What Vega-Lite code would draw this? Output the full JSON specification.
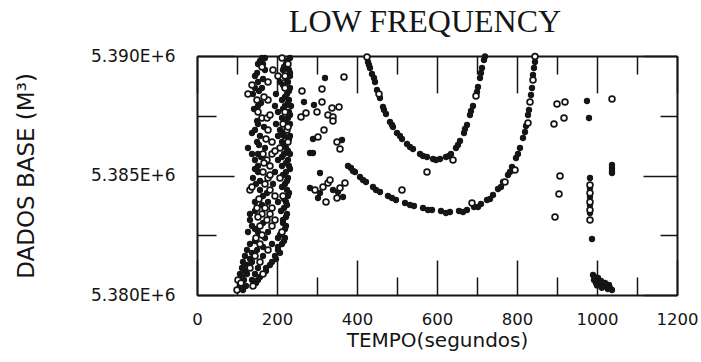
{
  "$schema": "https://vega.github.io/schema/vega-lite/v6.json",
  "width": 480,
  "height": 239,
  "autosize": {"type": "none"},
  "padding": {"left": 197, "top": 56, "right": 24, "bottom": 67},
  "background": "white",
  "title": {"text": "LOW FREQUENCY", "font": "Liberation Serif", "fontSize": 32, "fontWeight": "normal", "color": "#151515", "baseline": "alphabetic", "offset": 23, "dy": 40, "dx": -12},
  "config": {"view": {"stroke": null}},
  "data": {"values": [
    {"t":162.5,"v":5389916,"k":"f"},{"t":170,"v":5389916,"k":"f"},{"t":212.5,"v":5389916,"k":"o"},{"t":232.5,"v":5389916,"k":"f"},
    {"t":152.5,"v":5389665,"k":"f"},{"t":165,"v":5389665,"k":"f"},{"t":222.5,"v":5389665,"k":"f"},{"t":227.5,"v":5389665,"k":"o"},
    {"t":170,"v":5389414,"k":"f"},{"t":190,"v":5389414,"k":"o"},{"t":215,"v":5389414,"k":"f"},{"t":230,"v":5389414,"k":"f"},
    {"t":145,"v":5389163,"k":"f"},{"t":202.5,"v":5389163,"k":"o"},{"t":220,"v":5389163,"k":"o"},{"t":232.5,"v":5389163,"k":"f"},
    {"t":152.5,"v":5388912,"k":"f"},{"t":177.5,"v":5388912,"k":"o"},{"t":207.5,"v":5388912,"k":"f"},{"t":227.5,"v":5388912,"k":"f"},
    {"t":145,"v":5388661,"k":"f"},{"t":162.5,"v":5388661,"k":"f"},{"t":220,"v":5388661,"k":"o"},{"t":232.5,"v":5388661,"k":"f"},
    {"t":127.5,"v":5388410,"k":"o"},{"t":140,"v":5388410,"k":"f"},{"t":197.5,"v":5388410,"k":"f"},{"t":225,"v":5388410,"k":"f"},
    {"t":150,"v":5388159,"k":"o"},{"t":177.5,"v":5388159,"k":"o"},{"t":212.5,"v":5388159,"k":"f"},{"t":230,"v":5388159,"k":"f"},
    {"t":152.5,"v":5387908,"k":"f"},{"t":195,"v":5387908,"k":"f"},{"t":220,"v":5387908,"k":"f"},{"t":235,"v":5387908,"k":"f"},
    {"t":152.5,"v":5387657,"k":"o"},{"t":202.5,"v":5387657,"k":"f"},{"t":220,"v":5387657,"k":"o"},{"t":230,"v":5387657,"k":"f"},
    {"t":162.5,"v":5387406,"k":"o"},{"t":175,"v":5387406,"k":"o"},{"t":212.5,"v":5387406,"k":"f"},{"t":227.5,"v":5387406,"k":"f"},
    {"t":152.5,"v":5387155,"k":"f"},{"t":197.5,"v":5387155,"k":"f"},{"t":215,"v":5387155,"k":"o"},{"t":232.5,"v":5387155,"k":"f"},
    {"t":145,"v":5386904,"k":"f"},{"t":177.5,"v":5386904,"k":"o"},{"t":207.5,"v":5386904,"k":"f"},{"t":225,"v":5386904,"k":"o"},
    {"t":157.5,"v":5386653,"k":"f"},{"t":202.5,"v":5386653,"k":"f"},{"t":217.5,"v":5386653,"k":"f"},{"t":232.5,"v":5386653,"k":"f"},
    {"t":150,"v":5386402,"k":"f"},{"t":187.5,"v":5386402,"k":"o"},{"t":212.5,"v":5386402,"k":"f"},{"t":227.5,"v":5386402,"k":"o"},
    {"t":127.5,"v":5386151,"k":"f"},{"t":170,"v":5386151,"k":"f"},{"t":207.5,"v":5386151,"k":"o"},{"t":222.5,"v":5386151,"k":"f"},
    {"t":137.5,"v":5385900,"k":"f"},{"t":152.5,"v":5385900,"k":"f"},{"t":165,"v":5385900,"k":"o"},{"t":187.5,"v":5385900,"k":"o"},{"t":217.5,"v":5385900,"k":"f"},{"t":232.5,"v":5385900,"k":"f"},
    {"t":145,"v":5385649,"k":"f"},{"t":175,"v":5385649,"k":"o"},{"t":202.5,"v":5385649,"k":"f"},{"t":227.5,"v":5385649,"k":"f"},
    {"t":152.5,"v":5385398,"k":"f"},{"t":182.5,"v":5385398,"k":"o"},{"t":212.5,"v":5385398,"k":"f"},{"t":230,"v":5385398,"k":"f"},
    {"t":152.5,"v":5385147,"k":"f"},{"t":165,"v":5385147,"k":"o"},{"t":195,"v":5385147,"k":"f"},{"t":222.5,"v":5385147,"k":"f"},
    {"t":140,"v":5384896,"k":"f"},{"t":177.5,"v":5384896,"k":"o"},{"t":207.5,"v":5384896,"k":"o"},{"t":227.5,"v":5384896,"k":"f"},
    {"t":147.5,"v":5384644,"k":"f"},{"t":170,"v":5384644,"k":"o"},{"t":190,"v":5384644,"k":"f"},{"t":220,"v":5384644,"k":"f"},
    {"t":132.5,"v":5384393,"k":"o"},{"t":157.5,"v":5384393,"k":"f"},{"t":182.5,"v":5384393,"k":"o"},{"t":225,"v":5384393,"k":"f"},
    {"t":165,"v":5384142,"k":"f"},{"t":195,"v":5384142,"k":"o"},{"t":215,"v":5384142,"k":"o"},{"t":227.5,"v":5384142,"k":"f"},
    {"t":145,"v":5383891,"k":"f"},{"t":177.5,"v":5383891,"k":"f"},{"t":202.5,"v":5383891,"k":"f"},{"t":222.5,"v":5383891,"k":"f"},
    {"t":150,"v":5383640,"k":"o"},{"t":170,"v":5383640,"k":"o"},{"t":187.5,"v":5383640,"k":"o"},{"t":217.5,"v":5383640,"k":"f"},
    {"t":132.5,"v":5383389,"k":"f"},{"t":162.5,"v":5383389,"k":"o"},{"t":182.5,"v":5383389,"k":"o"},{"t":225,"v":5383389,"k":"f"},
    {"t":132.5,"v":5383138,"k":"f"},{"t":175,"v":5383138,"k":"o"},{"t":195,"v":5383138,"k":"o"},{"t":215,"v":5383138,"k":"f"},
    {"t":137.5,"v":5382887,"k":"f"},{"t":157.5,"v":5382887,"k":"o"},{"t":187.5,"v":5382887,"k":"o"},{"t":222.5,"v":5382887,"k":"f"},
    {"t":127.5,"v":5382636,"k":"f"},{"t":152.5,"v":5382636,"k":"f"},{"t":177.5,"v":5382636,"k":"f"},{"t":212.5,"v":5382636,"k":"o"},
    {"t":147.5,"v":5382385,"k":"o"},{"t":170,"v":5382385,"k":"f"},{"t":202.5,"v":5382385,"k":"f"},{"t":220,"v":5382385,"k":"f"},
    {"t":132.5,"v":5382134,"k":"f"},{"t":157.5,"v":5382134,"k":"o"},{"t":187.5,"v":5382134,"k":"f"},{"t":212.5,"v":5382134,"k":"f"},
    {"t":125,"v":5381883,"k":"f"},{"t":150,"v":5381883,"k":"f"},{"t":177.5,"v":5381883,"k":"o"},{"t":202.5,"v":5381883,"k":"f"},
    {"t":120,"v":5381632,"k":"f"},{"t":145,"v":5381632,"k":"o"},{"t":165,"v":5381632,"k":"f"},{"t":195,"v":5381632,"k":"f"},
    {"t":115,"v":5381381,"k":"f"},{"t":137.5,"v":5381381,"k":"f"},{"t":157.5,"v":5381381,"k":"o"},{"t":187.5,"v":5381381,"k":"f"},
    {"t":112.5,"v":5381130,"k":"f"},{"t":132.5,"v":5381130,"k":"o"},{"t":152.5,"v":5381130,"k":"f"},{"t":172.5,"v":5381130,"k":"f"},
    {"t":107.5,"v":5380879,"k":"f"},{"t":125,"v":5380879,"k":"f"},{"t":145,"v":5380879,"k":"f"},{"t":165,"v":5380879,"k":"o"},
    {"t":102.5,"v":5380628,"k":"o"},{"t":117.5,"v":5380628,"k":"f"},{"t":137.5,"v":5380628,"k":"f"},{"t":152.5,"v":5380628,"k":"f"},
    {"t":107.5,"v":5380377,"k":"f"},{"t":122.5,"v":5380377,"k":"f"},{"t":140,"v":5380377,"k":"o"},
    {"t":100,"v":5380209,"k":"o"},{"t":115,"v":5380209,"k":"f"},
    {"t":225,"v":5389791,"k":"f"},{"t":157.5,"v":5389791,"k":"f"},
    {"t":217.5,"v":5389540,"k":"f"},{"t":162.5,"v":5389540,"k":"o"},
    {"t":232.5,"v":5389289,"k":"f"},{"t":150,"v":5389289,"k":"f"},
    {"t":222.5,"v":5389038,"k":"f"},{"t":165,"v":5389038,"k":"f"},
    {"t":215,"v":5388787,"k":"f"},{"t":137.5,"v":5388787,"k":"o"},
    {"t":230,"v":5388536,"k":"f"},{"t":155,"v":5388536,"k":"f"},
    {"t":220,"v":5388285,"k":"f"},{"t":167.5,"v":5388285,"k":"o"},
    {"t":227.5,"v":5388033,"k":"f"},{"t":160,"v":5388033,"k":"f"},
    {"t":215,"v":5387782,"k":"f"},{"t":142.5,"v":5387782,"k":"f"},
    {"t":232.5,"v":5387531,"k":"f"},{"t":182.5,"v":5387531,"k":"o"},
    {"t":220,"v":5387280,"k":"f"},{"t":150,"v":5387280,"k":"f"},
    {"t":227.5,"v":5387029,"k":"o"},{"t":167.5,"v":5387029,"k":"f"},
    {"t":215,"v":5386778,"k":"f"},{"t":137.5,"v":5386778,"k":"f"},
    {"t":230,"v":5386527,"k":"f"},{"t":172.5,"v":5386527,"k":"o"},
    {"t":220,"v":5386276,"k":"f"},{"t":155,"v":5386276,"k":"f"},
    {"t":227.5,"v":5386025,"k":"f"},{"t":195,"v":5386025,"k":"o"},
    {"t":212.5,"v":5385774,"k":"f"},{"t":160,"v":5385774,"k":"f"},
    {"t":222.5,"v":5385523,"k":"f"},{"t":167.5,"v":5385523,"k":"o"},
    {"t":232.5,"v":5385272,"k":"f"},{"t":145,"v":5385272,"k":"f"},
    {"t":215,"v":5385021,"k":"f"},{"t":182.5,"v":5385021,"k":"o"},
    {"t":225,"v":5384770,"k":"f"},{"t":157.5,"v":5384770,"k":"f"},
    {"t":212.5,"v":5384519,"k":"f"},{"t":137.5,"v":5384519,"k":"o"},
    {"t":230,"v":5384268,"k":"f"},{"t":175,"v":5384268,"k":"f"},
    {"t":217.5,"v":5384017,"k":"f"},{"t":155,"v":5384017,"k":"o"},
    {"t":225,"v":5383766,"k":"f"},{"t":162.5,"v":5383766,"k":"f"},
    {"t":210,"v":5383515,"k":"f"},{"t":145,"v":5383515,"k":"f"},
    {"t":222.5,"v":5383264,"k":"f"},{"t":152.5,"v":5383264,"k":"o"},
    {"t":215,"v":5383013,"k":"f"},{"t":165,"v":5383013,"k":"f"},
    {"t":220,"v":5382762,"k":"f"},{"t":145,"v":5382762,"k":"f"},
    {"t":207.5,"v":5382511,"k":"f"},{"t":162.5,"v":5382511,"k":"o"},
    {"t":217.5,"v":5382260,"k":"f"},{"t":145,"v":5382260,"k":"f"},
    {"t":202.5,"v":5382009,"k":"f"},{"t":165,"v":5382009,"k":"f"},
    {"t":207.5,"v":5381758,"k":"f"},{"t":137.5,"v":5381758,"k":"f"},
    {"t":197.5,"v":5381507,"k":"f"},{"t":132.5,"v":5381507,"k":"f"},
    {"t":182.5,"v":5381256,"k":"f"},{"t":125,"v":5381256,"k":"f"},
    {"t":172.5,"v":5381005,"k":"f"},{"t":120,"v":5381005,"k":"f"},
    {"t":157.5,"v":5380754,"k":"f"},{"t":112.5,"v":5380754,"k":"f"},
    {"t":147.5,"v":5380503,"k":"f"},{"t":110,"v":5380503,"k":"o"},
    {"t":320,"v":5389079,"k":"f"},{"t":367.5,"v":5389121,"k":"o"},{"t":262.5,"v":5388536,"k":"o"},{"t":312.5,"v":5388619,"k":"o"},
    {"t":267.5,"v":5388075,"k":"f"},{"t":292.5,"v":5387950,"k":"f"},{"t":312.5,"v":5388075,"k":"o"},{"t":337.5,"v":5387824,"k":"o"},
    {"t":355,"v":5387866,"k":"o"},{"t":260,"v":5387448,"k":"o"},{"t":272.5,"v":5387615,"k":"o"},{"t":300,"v":5387657,"k":"o"},
    {"t":327.5,"v":5387531,"k":"o"},{"t":340,"v":5387448,"k":"o"},{"t":340,"v":5387280,"k":"o"},{"t":317.5,"v":5386904,"k":"o"},
    {"t":290,"v":5386527,"k":"f"},{"t":302.5,"v":5386611,"k":"o"},{"t":350,"v":5386402,"k":"o"},{"t":362.5,"v":5386486,"k":"f"},
    {"t":357.5,"v":5386109,"k":"o"},{"t":282.5,"v":5385941,"k":"f"},{"t":290,"v":5385941,"k":"f"},{"t":307.5,"v":5385105,"k":"f"},
    {"t":295,"v":5384394,"k":"o"},{"t":315,"v":5384519,"k":"o"},{"t":327.5,"v":5384686,"k":"o"},{"t":332.5,"v":5384812,"k":"o"},
    {"t":340,"v":5384394,"k":"f"},{"t":352.5,"v":5384310,"k":"f"},{"t":357.5,"v":5384477,"k":"o"},{"t":370,"v":5384686,"k":"o"},
    {"t":322.5,"v":5383891,"k":"o"},{"t":302.5,"v":5384059,"k":"f"},{"t":350,"v":5384059,"k":"o"},{"t":365,"v":5384101,"k":"f"},
    {"t":282.5,"v":5384477,"k":"f"},{"t":307.5,"v":5384268,"k":"f"},
    {"t":425,"v":5389958,"k":"o"},{"t":427.5,"v":5389749,"k":"f"},{"t":432.5,"v":5389498,"k":"f"},{"t":437.5,"v":5389247,"k":"f"},
    {"t":445,"v":5388912,"k":"f"},{"t":450,"v":5388577,"k":"f"},{"t":457.5,"v":5388243,"k":"f"},{"t":465,"v":5387866,"k":"f"},
    {"t":472.5,"v":5387573,"k":"f"},{"t":482.5,"v":5387239,"k":"f"},{"t":490,"v":5387029,"k":"f"},{"t":500,"v":5386778,"k":"f"},
    {"t":512.5,"v":5386527,"k":"f"},{"t":525,"v":5386318,"k":"f"},{"t":540,"v":5386109,"k":"f"},{"t":557.5,"v":5385900,"k":"f"},
    {"t":575,"v":5385774,"k":"f"},{"t":590,"v":5385690,"k":"f"},{"t":607.5,"v":5385690,"k":"f"},{"t":622.5,"v":5385774,"k":"f"},
    {"t":635,"v":5385900,"k":"f"},{"t":647.5,"v":5386151,"k":"f"},{"t":657.5,"v":5386444,"k":"f"},{"t":667.5,"v":5386778,"k":"f"},
    {"t":675,"v":5387113,"k":"f"},{"t":682.5,"v":5387532,"k":"f"},{"t":690,"v":5387908,"k":"f"},{"t":697.5,"v":5388326,"k":"o"},
    {"t":702.5,"v":5388703,"k":"f"},{"t":707.5,"v":5389080,"k":"f"},{"t":712.5,"v":5389498,"k":"f"},{"t":717.5,"v":5389833,"k":"f"},
    {"t":720,"v":5389980,"k":"f"},
    {"t":430,"v":5389623,"k":"f"},{"t":442.5,"v":5389080,"k":"f"},{"t":455,"v":5388410,"k":"o"},{"t":467.5,"v":5387741,"k":"f"},
    {"t":487.5,"v":5387113,"k":"f"},{"t":507.5,"v":5386653,"k":"f"},{"t":532.5,"v":5386193,"k":"f"},{"t":565,"v":5385816,"k":"f"},
    {"t":597.5,"v":5385649,"k":"f"},{"t":630,"v":5385816,"k":"f"},{"t":652.5,"v":5386276,"k":"f"},{"t":670,"v":5386945,"k":"f"},
    {"t":685,"v":5387699,"k":"f"},{"t":700,"v":5388494,"k":"f"},{"t":710,"v":5389289,"k":"f"},
    {"t":640,"v":5385649,"k":"o"},{"t":575,"v":5385146,"k":"o"},
    {"t":377.5,"v":5385398,"k":"f"},{"t":385,"v":5385314,"k":"f"},{"t":395,"v":5385147,"k":"f"},{"t":407.5,"v":5384937,"k":"f"},
    {"t":422.5,"v":5384728,"k":"f"},{"t":440,"v":5384519,"k":"f"},{"t":457.5,"v":5384310,"k":"f"},{"t":477.5,"v":5384142,"k":"f"},
    {"t":497.5,"v":5383975,"k":"f"},{"t":520,"v":5383850,"k":"f"},{"t":542.5,"v":5383724,"k":"f"},{"t":565,"v":5383640,"k":"f"},
    {"t":587.5,"v":5383557,"k":"f"},{"t":610,"v":5383515,"k":"f"},{"t":632.5,"v":5383473,"k":"f"},{"t":655,"v":5383515,"k":"f"},
    {"t":675,"v":5383557,"k":"f"},{"t":692.5,"v":5383682,"k":"f"},{"t":710,"v":5383808,"k":"f"},{"t":725,"v":5383975,"k":"f"},
    {"t":740,"v":5384184,"k":"f"},{"t":752.5,"v":5384435,"k":"f"},{"t":765,"v":5384728,"k":"f"},{"t":777.5,"v":5385021,"k":"f"},
    {"t":787.5,"v":5385356,"k":"f"},{"t":797.5,"v":5385732,"k":"f"},{"t":807.5,"v":5386151,"k":"f"},{"t":815,"v":5386569,"k":"f"},
    {"t":822.5,"v":5387071,"k":"f"},{"t":827.5,"v":5387532,"k":"f"},{"t":832.5,"v":5388075,"k":"o"},{"t":837.5,"v":5388661,"k":"f"},
    {"t":840,"v":5389205,"k":"f"},{"t":845,"v":5389749,"k":"f"},
    {"t":390,"v":5385189,"k":"f"},{"t":415,"v":5384812,"k":"f"},{"t":447.5,"v":5384394,"k":"f"},{"t":487.5,"v":5384059,"k":"f"},
    {"t":532.5,"v":5383766,"k":"f"},{"t":577.5,"v":5383557,"k":"f"},{"t":622.5,"v":5383431,"k":"f"},{"t":665,"v":5383473,"k":"f"},
    {"t":702.5,"v":5383682,"k":"f"},{"t":732.5,"v":5384017,"k":"f"},{"t":760,"v":5384519,"k":"f"},{"t":782.5,"v":5385147,"k":"f"},
    {"t":802.5,"v":5385900,"k":"f"},{"t":820,"v":5386820,"k":"f"},{"t":830,"v":5387741,"k":"f"},{"t":835,"v":5388368,"k":"f"},
    {"t":842.5,"v":5389498,"k":"f"},
    {"t":512.5,"v":5384394,"k":"o"},{"t":687.5,"v":5383850,"k":"o"},{"t":770,"v":5384728,"k":"o"},{"t":795,"v":5385230,"k":"o"},
    {"t":840,"v":5388996,"k":"o"},{"t":827.5,"v":5387196,"k":"o"},{"t":845,"v":5389980,"k":"o"},
    {"t":900,"v":5387992,"k":"o"},{"t":920,"v":5388075,"k":"o"},{"t":917.5,"v":5387406,"k":"o"},{"t":892.5,"v":5387155,"k":"o"},
    {"t":975,"v":5388117,"k":"f"},{"t":980,"v":5387406,"k":"f"},{"t":1037.5,"v":5388201,"k":"o"},
    {"t":907.5,"v":5384979,"k":"o"},{"t":905,"v":5384226,"k":"o"},{"t":895,"v":5383264,"k":"o"},
    {"t":982.5,"v":5384896,"k":"f"},{"t":982.5,"v":5384603,"k":"o"},{"t":982.5,"v":5384477,"k":"f"},{"t":982.5,"v":5384268,"k":"o"},
    {"t":982.5,"v":5384101,"k":"f"},{"t":982.5,"v":5383891,"k":"o"},{"t":982.5,"v":5383766,"k":"f"},{"t":982.5,"v":5383557,"k":"o"},
    {"t":982.5,"v":5383431,"k":"f"},{"t":982.5,"v":5383138,"k":"o"},
    {"t":987.5,"v":5382343,"k":"f"},
    {"t":1037.5,"v":5385440,"k":"f"},{"t":1037.5,"v":5385314,"k":"f"},{"t":1037.5,"v":5385189,"k":"f"},{"t":1037.5,"v":5385105,"k":"f"},
    {"t":990,"v":5380837,"k":"f"},{"t":992.5,"v":5380628,"k":"f"},{"t":997.5,"v":5380502,"k":"f"},{"t":1005,"v":5380460,"k":"f"},
    {"t":1015,"v":5380377,"k":"f"},{"t":1025,"v":5380335,"k":"f"},{"t":1032.5,"v":5380293,"k":"f"},{"t":1037.5,"v":5380209,"k":"f"},
    {"t":1002.5,"v":5380712,"k":"f"},{"t":1010,"v":5380586,"k":"f"},{"t":1020,"v":5380502,"k":"f"},{"t":1030,"v":5380418,"k":"f"},
    {"t":995,"v":5380750,"k":"f"},{"t":1000,"v":5380400,"k":"f"},{"t":1012,"v":5380300,"k":"f"},{"t":1027,"v":5380250,"k":"f"}
  ]},
  "resolve": {"axis": {"x": "independent", "y": "independent"}},
  "layer": [
    {
      "transform": [{"filter": "datum.k === 'f'"}],
      "mark": {"type": "circle", "size": 40, "color": "#151515", "opacity": 1},
      "encoding": {
        "x": {"field": "t", "type": "quantitative", "scale": {"domain": [0, 1200], "nice": false, "zero": false},
          "axis": {"orient": "bottom", "values": [0,100,200,300,400,500,600,700,800,900,1000,1100,1200], "format": "d",
            "labelExpr": "datum.value % 200 === 0 ? datum.label : ''", "labelFlush": false, "labelOverlap": false,
            "tickSize": {"condition": {"test": "datum.value % 200 === 0", "value": -35}, "value": -18},
            "labelPadding": 51, "grid": false, "domainColor": "#151515", "domainWidth": 2, "tickColor": "#151515", "tickWidth": 1.5,
            "labelFont": "DejaVu Sans", "labelFontSize": 16.5, "labelColor": "#151515",
            "title": "TEMPO(segundos)", "titleFont": "DejaVu Sans", "titleFontSize": 20, "titleFontWeight": "normal", "titleColor": "#151515", "titlePadding": -14}},
        "y": {"field": "v", "type": "quantitative", "scale": {"domain": [5380000, 5390000], "nice": false, "zero": false},
          "axis": {"orient": "left", "values": [5380000, 5382500, 5385000, 5387500, 5390000],
            "labelExpr": "datum.value % 5000 === 0 ? format(datum.value / 1000000, '.3f') + 'E+6' : ''", "labelOverlap": false,
            "tickSize": {"condition": {"test": "datum.value % 5000 === 0", "value": -37}, "value": -19},
            "labelPadding": 59, "grid": false, "domainColor": "#151515", "domainWidth": 2, "tickColor": "#151515", "tickWidth": 1.5,
            "labelFont": "DejaVu Sans", "labelFontSize": 17, "labelColor": "#151515",
            "title": "DADOS BASE (M³)", "titleFont": "DejaVu Sans", "titleFontSize": 23, "titleFontWeight": "normal", "titleColor": "#151515", "titlePadding": 52}}
      }
    },
    {
      "transform": [{"filter": "datum.k === 'o'"}],
      "mark": {"type": "point", "shape": "circle", "filled": false, "fill": "white", "fillOpacity": 1, "size": 34, "strokeWidth": 1.7, "stroke": "#151515", "opacity": 1},
      "encoding": {
        "x": {"field": "t", "type": "quantitative", "scale": {"domain": [0, 1200], "nice": false, "zero": false},
          "axis": {"orient": "top", "values": [0,100,200,300,400,500,600,700,800,900,1000,1100,1200], "labels": false, "title": null,
            "tickSize": {"condition": {"test": "datum.value % 200 === 0", "value": -37}, "value": -18},
            "grid": false, "domainColor": "#151515", "domainWidth": 2, "tickColor": "#151515", "tickWidth": 1.5}},
        "y": {"field": "v", "type": "quantitative", "scale": {"domain": [5380000, 5390000], "nice": false, "zero": false},
          "axis": {"orient": "right", "values": [5380000, 5382500, 5385000, 5387500, 5390000], "labels": false, "title": null,
            "tickSize": {"condition": {"test": "datum.value % 5000 === 0", "value": -34}, "value": -17},
            "grid": false, "domainColor": "#151515", "domainWidth": 2, "tickColor": "#151515", "tickWidth": 1.5}}
      }
    }
  ]
}
